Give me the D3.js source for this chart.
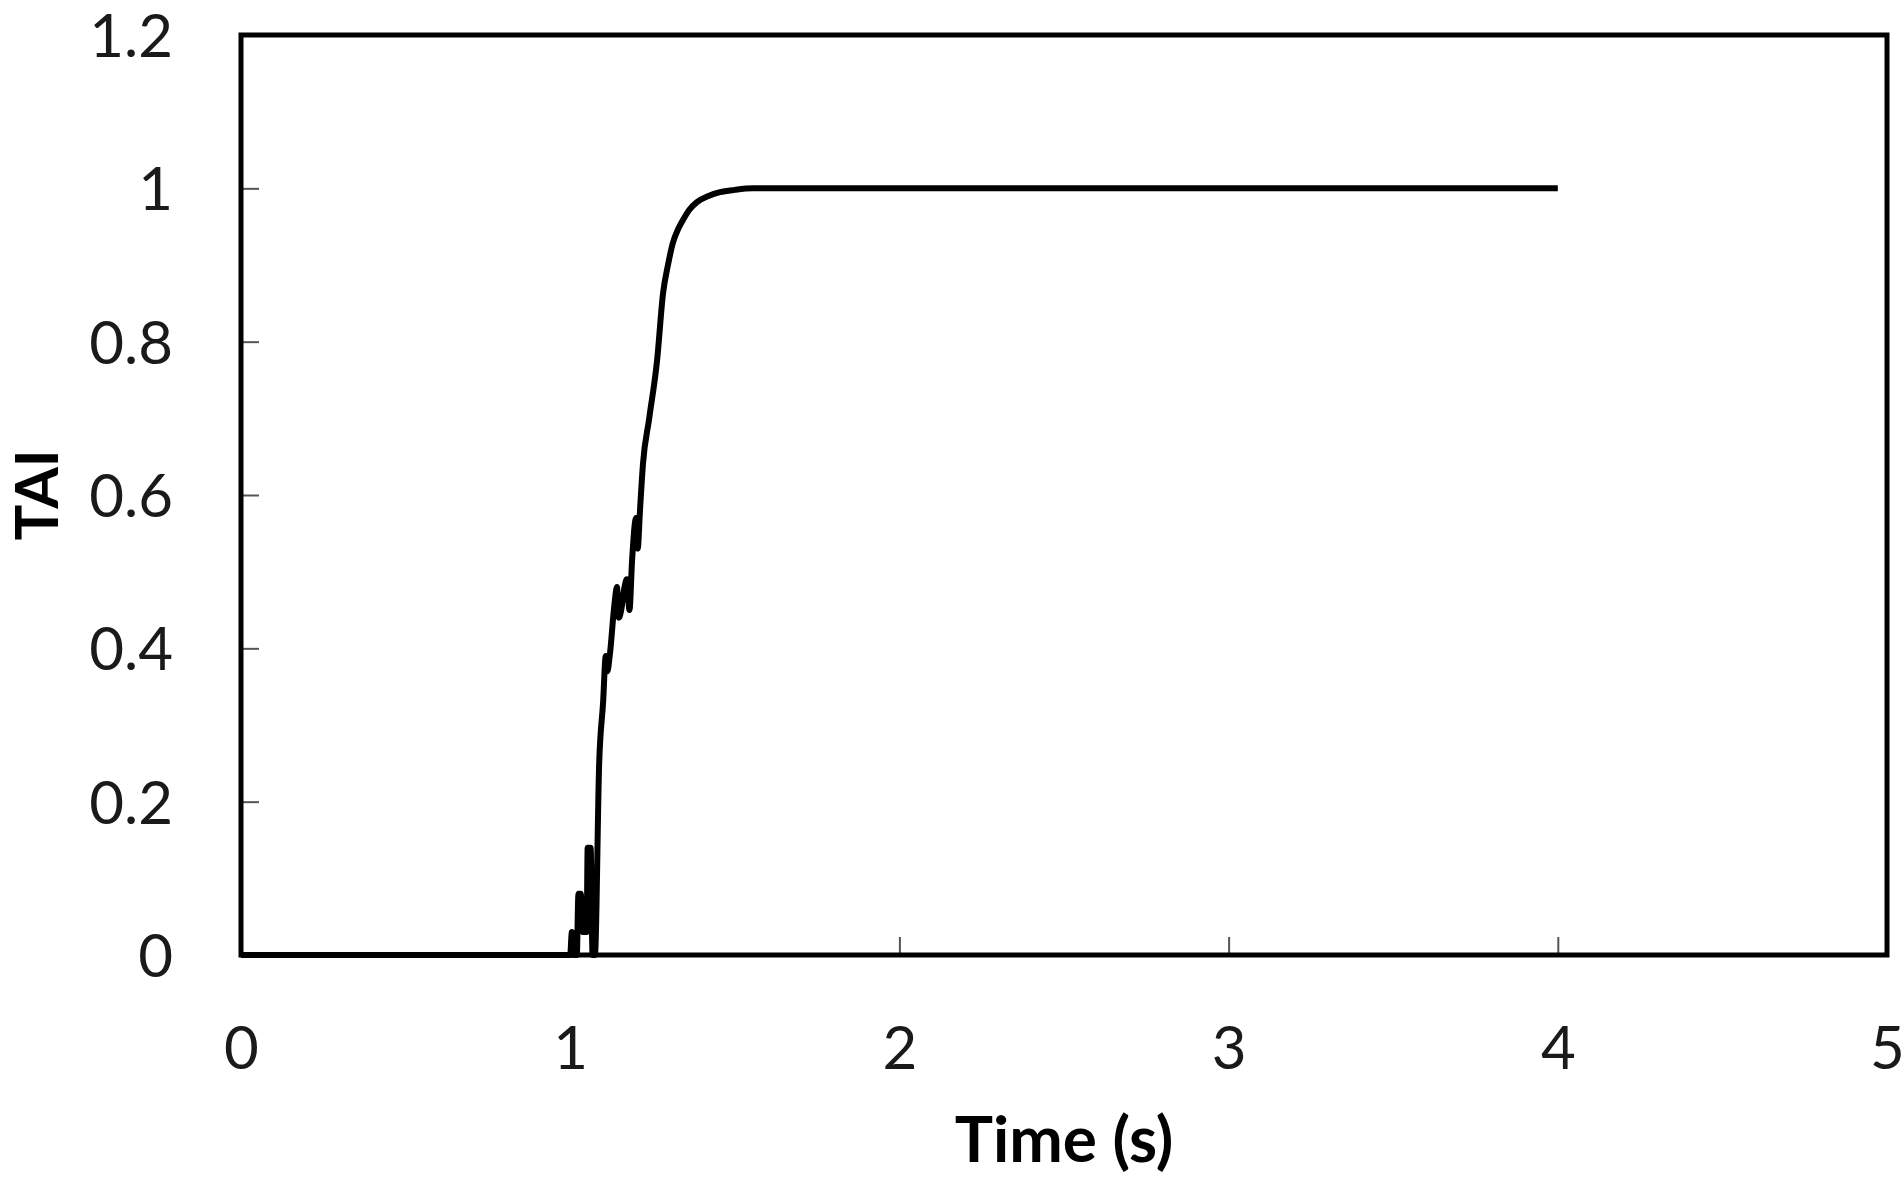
<!DOCTYPE html>
<html>
<head>
<meta charset="utf-8">
<script src="https://cdn.jsdelivr.net/npm/d3@7"></script>
<style>
  html, body { margin: 0; padding: 0; background: #fff; }
  svg { display: block; }
</style>
</head>
<body>
<svg id="chart" width="1904" height="1183"></svg>
<script>
// ---- data ----
const timeS = [0, 1.0, 1.005, 1.01, 1.02, 1.025, 1.032, 1.038, 1.05, 1.053, 1.062, 1.068, 1.075,
  1.088, 1.1, 1.108, 1.113, 1.12, 1.135, 1.142, 1.148, 1.155, 1.165, 1.172, 1.18, 1.188,
  1.2, 1.205, 1.212, 1.221, 1.24, 1.264, 1.282, 1.297, 1.312, 1.328, 1.343, 1.362, 1.385,
  1.42, 1.455, 1.5, 1.555, 2, 3, 4];
const tai = [0, 0, 0.03, 0, 0, 0.08, 0.08, 0.03, 0.03, 0.14, 0.14, 0.0, 0,
  0.25, 0.33, 0.39, 0.37, 0.39, 0.46, 0.48, 0.44, 0.45, 0.48, 0.49, 0.45, 0.515,
  0.57, 0.53, 0.58, 0.64, 0.70, 0.776, 0.863, 0.90, 0.929, 0.947, 0.959, 0.972, 0.982,
  0.99, 0.995, 0.998, 1.0, 1.0, 1.0, 1.0];
const xTicks = [0, 1, 2, 3, 4, 5];
const yTicks = [0, 0.2, 0.4, 0.6, 0.8, 1, 1.2];
const xTitle = "Time (s)";
const yTitle = "TAI";

const svg = d3.select("#chart");
const L = 241, R = 1887, T = 35, B = 955;
const x = d3.scaleLinear().domain([0, 5]).range([L, R]);
const y = d3.scaleLinear().domain([0, 1.2]).range([B, T]);
const font = "Lato, 'Open Sans', sans-serif";

// x axis
const gx = svg.append("g").attr("transform", `translate(0,${B})`)
  .call(d3.axisBottom(x).tickValues(xTicks).tickFormat(d3.format("d"))
    .tickSizeInner(-18).tickSizeOuter(0).tickPadding(71));
gx.select(".domain").remove();
gx.selectAll(".tick line").attr("stroke", "#555").attr("stroke-width", 2);
gx.selectAll(".tick text").attr("font-family", font).attr("font-size", 60).attr("fill", "#1a1a1a");

// y axis
const gy = svg.append("g").attr("transform", `translate(${L},0)`)
  .call(d3.axisLeft(y).tickValues(yTicks).tickFormat(d => String(+d.toFixed(1)))
    .tickSizeInner(-18).tickSizeOuter(0).tickPadding(68));
gy.select(".domain").remove();
gy.selectAll(".tick line").attr("stroke", "#555").attr("stroke-width", 2);
gy.selectAll(".tick text").attr("font-family", font).attr("font-size", 60).attr("fill", "#1a1a1a")
  .attr("dy", "0.36em");

// frame
svg.append("rect").attr("x", L).attr("y", T).attr("width", R - L).attr("height", B - T)
  .attr("fill", "none").attr("stroke", "#000").attr("stroke-width", 5);

// line
const pts = timeS.map((t, i) => [t, tai[i]]);
svg.append("path").datum(pts)
  .attr("fill", "none").attr("stroke", "#000").attr("stroke-width", 6)
  .attr("stroke-linejoin", "round")
  .attr("d", d3.line().x(d => x(d[0])).y(d => y(d[1])).curve(d3.curveMonotoneX));

// titles
svg.append("text").attr("x", (L + R) / 2).attr("y", 1162).attr("text-anchor", "middle")
  .attr("font-family", font).attr("font-weight", "bold").attr("font-size", 64).attr("fill", "#000")
  .text(xTitle);
svg.append("text").attr("transform", "translate(58,495) rotate(-90)").attr("text-anchor", "middle")
  .attr("font-family", font).attr("font-weight", "bold").attr("font-size", 60).attr("fill", "#000")
  .text(yTitle);
</script>
</body>
</html>
